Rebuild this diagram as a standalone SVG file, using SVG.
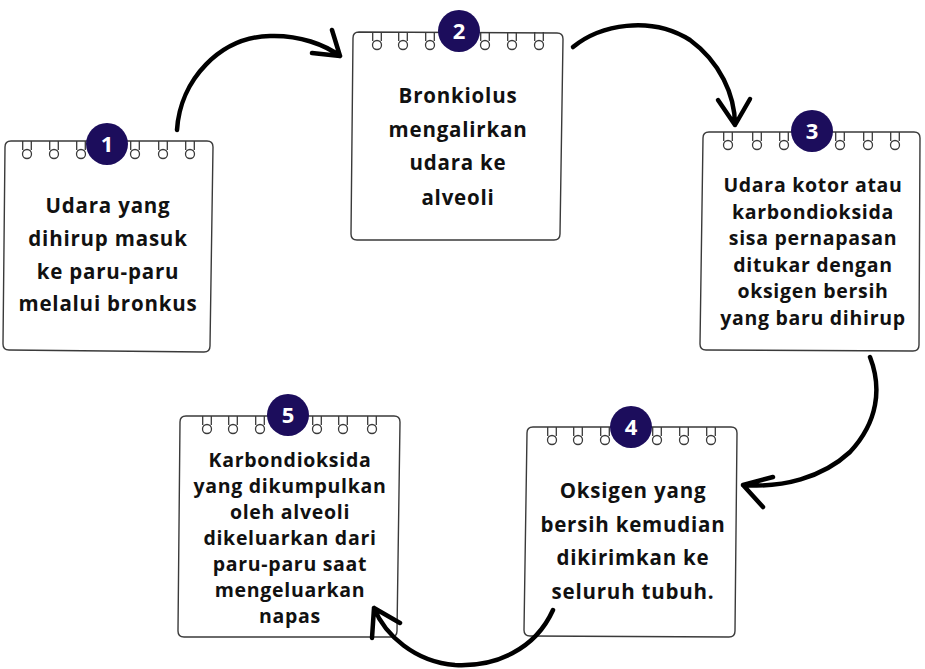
<svg xmlns="http://www.w3.org/2000/svg" width="925" height="669" viewBox="0 0 925 669">
<defs>
<style>
.note{fill:#fff;stroke:#3a3a3a;stroke-width:1.4;stroke-linejoin:round}
.ring{fill:#fff;stroke:#3a3a3a;stroke-width:1.3}
.badge{fill:#1c0d5c}
.num{fill:#fff;font-family:"Open Sans","Liberation Sans",sans-serif;font-weight:700;font-size:22px;text-anchor:middle}
.t20{fill:#111;font-family:"Open Sans","Liberation Sans",sans-serif;font-weight:700;font-size:20.5px;letter-spacing:0.8px;text-anchor:middle}
.t18{fill:#111;font-family:"Open Sans","Liberation Sans",sans-serif;font-weight:700;font-size:19.5px;letter-spacing:0.7px;text-anchor:middle}
.arr{fill:none;stroke:#000;stroke-width:4.5;stroke-linecap:round;stroke-linejoin:round}
</style>
<g id="rings">
<path class="ring" d="M-4.3,0 v9 M4.3,0 v9"/>
<circle class="ring" cx="0" cy="13" r="4.5"/>
</g>
</defs>
<rect width="925" height="669" fill="#fff"/>

<g id="node1">
<path class="note" d="M11,141 L207,141 Q213,141 213,147 L210,346 Q210,352 204,352 L9,350 Q3,350 3,344 L5,147 Q5,141 11,141 Z"/>
<use href="#rings" x="27" y="141"/><use href="#rings" x="54" y="141"/><use href="#rings" x="81" y="141"/>
<use href="#rings" x="135" y="141"/><use href="#rings" x="163" y="141"/><use href="#rings" x="190" y="141"/>
<circle class="badge" cx="107" cy="144" r="21"/>
<text class="num" x="107" y="152">1</text>
<text class="t20"><tspan x="108" y="213">Udara yang</tspan><tspan x="108" y="246">dihirup masuk</tspan><tspan x="108" y="279">ke paru-paru</tspan><tspan x="108" y="311">melalui bronkus</tspan></text>
</g>

<g id="node2">
<path class="note" d="M359,32 L557,33 Q563,33 563,39 L560,234 Q560,240 554,240 L357,240 Q351,240 351,234 L353,38 Q353,32 359,32 Z"/>
<use href="#rings" x="377" y="32"/><use href="#rings" x="403" y="32"/><use href="#rings" x="430" y="32"/>
<use href="#rings" x="485" y="32"/><use href="#rings" x="512" y="32"/><use href="#rings" x="539" y="32"/>
<circle class="badge" cx="459" cy="31" r="21"/>
<text class="num" x="459" y="39">2</text>
<text class="t20"><tspan x="458" y="103">Bronkiolus</tspan><tspan x="458" y="137">mengalirkan</tspan><tspan x="458" y="170">udara ke</tspan><tspan x="458" y="205">alveoli</tspan></text>
</g>

<g id="node3">
<path class="note" d="M709,132 L914,132 Q920,132 920,138 L919,345 Q919,351 913,351 L706,350 Q700,350 700,344 L703,138 Q703,132 709,132 Z"/>
<use href="#rings" x="728" y="132"/><use href="#rings" x="757" y="132"/><use href="#rings" x="784" y="132"/>
<use href="#rings" x="840" y="132"/><use href="#rings" x="868" y="132"/><use href="#rings" x="895" y="132"/>
<circle class="badge" cx="812" cy="131" r="21"/>
<text class="num" x="812" y="139">3</text>
<text class="t18"><tspan x="813" y="192">Udara kotor atau</tspan><tspan x="813" y="218.5">karbondioksida</tspan><tspan x="813" y="245">sisa pernapasan</tspan><tspan x="813" y="271.5">ditukar dengan</tspan><tspan x="813" y="298">oksigen bersih</tspan><tspan x="813" y="324.5">yang baru dihirup</tspan></text>
</g>

<g id="node4">
<path class="note" d="M533,427 L731,427 Q737,427 737,433 L735,631 Q735,637 729,637 L530,636 Q524,636 524,630 L527,433 Q527,427 533,427 Z"/>
<use href="#rings" x="552" y="427"/><use href="#rings" x="578" y="427"/><use href="#rings" x="605" y="427"/>
<use href="#rings" x="657" y="427"/><use href="#rings" x="684" y="427"/><use href="#rings" x="711" y="427"/>
<circle class="badge" cx="631" cy="427" r="21"/>
<text class="num" x="631" y="435">4</text>
<text class="t20"><tspan x="633" y="498">Oksigen yang</tspan><tspan x="633" y="531.5">bersih kemudian</tspan><tspan x="633" y="565">dikirimkan ke</tspan><tspan x="633" y="598.5">seluruh tubuh.</tspan></text>
</g>

<g id="node5">
<path class="note" d="M186,416 L394,416 Q400,416 400,422 L397,631 Q397,637 391,637 L184,637 Q178,637 178,631 L180,422 Q180,416 186,416 Z"/>
<use href="#rings" x="207" y="416"/><use href="#rings" x="233" y="416"/><use href="#rings" x="260" y="416"/>
<use href="#rings" x="317" y="416"/><use href="#rings" x="343" y="416"/><use href="#rings" x="372" y="416"/>
<circle class="badge" cx="288" cy="415" r="21"/>
<text class="num" x="288" y="423">5</text>
<text class="t18"><tspan x="290" y="467">Karbondioksida</tspan><tspan x="290" y="493">yang dikumpulkan</tspan><tspan x="290" y="519">oleh alveoli</tspan><tspan x="290" y="545">dikeluarkan dari</tspan><tspan x="290" y="571">paru-paru saat</tspan><tspan x="290" y="597">mengeluarkan</tspan><tspan x="290" y="623">napas</tspan></text>
</g>

<g id="connectors">
<path class="arr" d="M177,130 C180,80 220,37 270,36 C300,35 325,45 340,56 M312,53 L340,56 L332,30"/>
<path class="arr" d="M573,47 C600,25 650,15 690,40 C720,62 735,95 735,125 M718,100 L735,125 L750,99"/>
<path class="arr" d="M870,357 C882,388 878,422 850,452 C822,478 782,488 743,485 M773,477 L743,485 L763,507"/>
<path class="arr" d="M553,610 C535,650 495,667 455,665 C415,662 385,635 374,608 M372,638 L374,608 L400,623"/>
</g>
</svg>
